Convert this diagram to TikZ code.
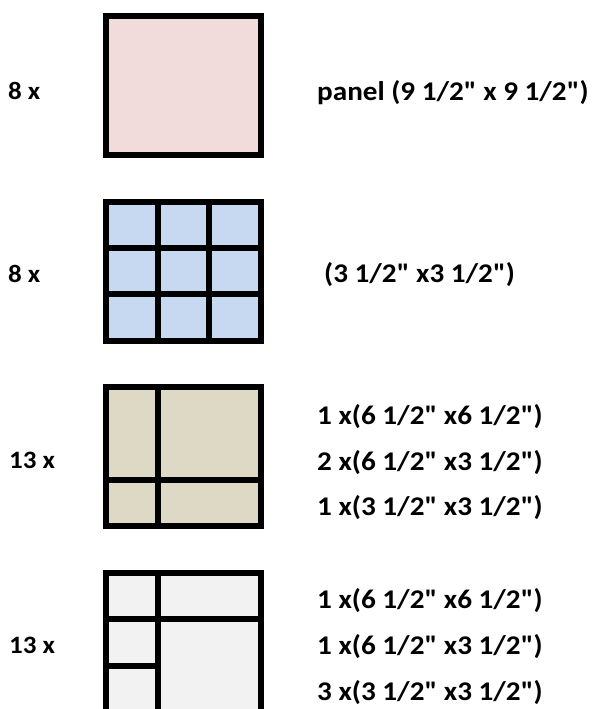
\documentclass[tikz,border=0pt]{standalone}
\usepackage{fontspec}
\setmainfont{Carlito}[Ligatures=TeXOff, FakeStretch=1.08]
\definecolor{panelpink}{HTML}{F2DCDB}
\definecolor{panelblue}{HTML}{C6D9F1}
\definecolor{paneltan}{HTML}{DDD9C4}
\definecolor{panelgray}{HTML}{F2F2F2}
\tikzset{
  frame/.style={draw=black, line width=6pt},
  cut/.style={draw=black, line width=6pt},
  lbl/.style={anchor=base west, inner sep=0pt, font=\fontsize{27}{30}\selectfont\bfseries},
  cnt/.style={anchor=base west, inner sep=0pt, font=\fontsize{25}{30}\selectfont\bfseries},
}
\begin{document}
\begin{tikzpicture}[x=1pt,y=-1pt]
\useasboundingbox (0,0) rectangle (594,709);
\begin{scope}
\clip (0,0) rectangle (594,709);
% panel 1
\path[frame, fill=panelpink] (106,16) rectangle (261,154.7);
% panel 2
\path[frame, fill=panelblue] (106,202) rectangle (261,340.7);
\draw[cut] (158,202) -- (158,340.7);
\draw[cut] (209,202) -- (209,340.7);
\draw[cut] (106,248) -- (261,248);
\draw[cut] (106,294) -- (261,294);
% panel 3
\path[frame, fill=paneltan] (106,387) rectangle (261,525.7);
\draw[cut] (158,387) -- (158,525.7);
\draw[cut] (106,480) -- (261,480);
% panel 4
\path[frame, fill=panelgray] (106,573) rectangle (261,712);
\draw[cut] (158,573) -- (158,712);
\draw[cut] (106,619) -- (261,619);
\draw[cut] (106,666) -- (158,666);
\end{scope}
% left counts
\node[cnt] (c1) at (8,99) {8 x};
\node[cnt] (c2) at (8,282) {8 x};
\node[cnt] (c3) at (9,468) {13 x};
\node[cnt] (c4) at (9,653) {13 x};
% right descriptions
\node[lbl] (d1) at (317,100) {panel (9 1/2" x 9 1/2")};
\node[lbl] (d2) at (324,282) {(3 1/2" x3 1/2")};
\node[lbl] (d3a) at (317,424) {1 x(6 1/2" x6 1/2")};
\node[lbl] (d3b) at (317,470) {2 x(6 1/2" x3 1/2")};
\node[lbl] (d3c) at (317,515) {1 x(3 1/2" x3 1/2")};
\node[lbl] (d4a) at (317,608) {1 x(6 1/2" x6 1/2")};
\node[lbl] (d4b) at (317,654) {1 x(6 1/2" x3 1/2")};
\node[lbl] (d4c) at (317,700) {3 x(3 1/2" x3 1/2")};
\end{tikzpicture}
\end{document}
